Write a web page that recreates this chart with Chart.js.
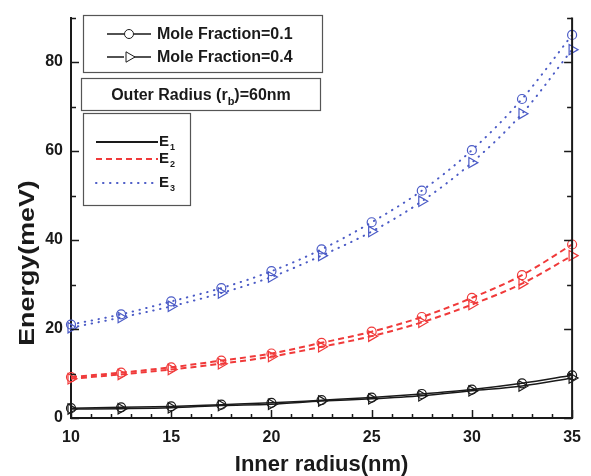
<!DOCTYPE html>
<html>
<head>
<meta charset="utf-8">
<script src="https://cdn.jsdelivr.net/npm/chart.js@4/dist/chart.umd.min.js"></script>
<style>
  html, body { margin: 0; padding: 0; background: #fff; }
  #wrap { width: 591px; height: 476px; }
</style>
</head>
<body>
<div id="wrap"><canvas id="c" width="591" height="476"></canvas></div>
<script>
// Inner radius (nm) and subband energies (meV) for two mole fractions
const innerRadius = [10, 12.5, 15, 17.5, 20, 22.5, 25, 27.5, 30, 32.5, 35];
const e1Frac01 = [2.2, 2.4, 2.6, 3.0, 3.4, 4.0, 4.6, 5.4, 6.4, 7.8, 9.6];
const e1Frac04 = [2.0, 2.1, 2.3, 2.8, 3.1, 3.8, 4.3, 5.0, 6.1, 7.2, 9.0];
const e2Frac01 = [9.2, 10.2, 11.4, 12.9, 14.5, 16.9, 19.4, 22.7, 27.0, 32.1, 39.0];
const e2Frac04 = [8.8, 9.8, 10.9, 12.2, 13.8, 16.0, 18.4, 21.5, 25.5, 30.2, 36.5];
const e3Frac01 = [21.0, 23.3, 26.2, 29.2, 33.0, 37.9, 44.0, 51.1, 60.2, 71.7, 86.1];
const e3Frac04 = [20.3, 22.6, 25.1, 28.1, 31.7, 36.5, 41.9, 48.7, 57.4, 68.4, 82.8];

const xTickLabels = [10, 15, 20, 25, 30, 35];
const yTickLabels = [0, 20, 40, 60, 80];

const FONT = '"Liberation Sans", Arial, Helvetica, sans-serif';
const BLACK = '#1a1a1a';
const RED = '#f03a3a';
const BLUE = '#4b5bc6';
const DASH = [6, 4];
const DOT = [0.5, 6.5];

const toPoints = ys => innerRadius.map((x, i) => ({ x, y: ys[i] }));

function series(label, ys, color, style, dash, width) {
  return {
    label,
    data: toPoints(ys),
    borderColor: color,
    borderWidth: width,
    borderDash: dash,
    borderCapStyle: dash === DOT ? 'round' : 'butt',
    cubicInterpolationMode: 'monotone',
    pointStyle: style,
    pointRotation: style === 'triangle' ? 90 : 0,
    pointRadius: style === 'triangle' ? 6 : 4.5,
    pointBorderWidth: 1.2,
    pointBorderColor: color,
    pointBackgroundColor: 'rgba(255,255,255,0)',
    clip: false
  };
}

// Inward ticks on left, right and bottom, plus the right-hand frame line
const frame = {
  id: 'frame',
  afterDraw(chart) {
    const { ctx, chartArea: a, scales: { x, y } } = chart;
    ctx.save();
    ctx.strokeStyle = BLACK;
    ctx.lineWidth = 2;
    ctx.beginPath();
    ctx.moveTo(a.right, a.top);
    ctx.lineTo(a.right, a.bottom + 1);
    ctx.stroke();
    ctx.lineWidth = 1.5;
    ctx.beginPath();
    for (let v = y.min; v <= y.max; v += 10) {
      const py = Math.round(y.getPixelForValue(v)) + 0.5;
      const len = v % 20 === 0 ? 8 : 5;
      ctx.moveTo(a.left, py); ctx.lineTo(a.left + len, py);
      ctx.moveTo(a.right, py); ctx.lineTo(a.right - len, py);
    }
    for (let v = x.min; v <= x.max; v += 1) {
      const px = Math.round(x.getPixelForValue(v)) + 0.5;
      const len = v % 5 === 0 ? 8 : 4;
      ctx.moveTo(px, a.bottom); ctx.lineTo(px, a.bottom - len);
    }
    ctx.stroke();
    ctx.restore();
  }
};

// Axis titles
const titles = {
  id: 'titles',
  afterDraw(chart) {
    const { ctx, chartArea: a } = chart;
    ctx.save();
    ctx.fillStyle = BLACK;
    ctx.font = 'bold 22px ' + FONT;
    ctx.textAlign = 'center';
    ctx.textBaseline = 'alphabetic';
    ctx.fillText('Inner radius(nm)', (a.left + a.right) / 2, 471);
    ctx.translate(28, 263);
    ctx.rotate(-Math.PI / 2);
    ctx.scale(1.22, 1);
    ctx.textBaseline = 'middle';
    ctx.fillText('Energy(meV)', 0, 0);
    ctx.restore();
  }
};

// Boxed keys: marker meaning, outer radius note, line style meaning
const keys = {
  id: 'keys',
  afterDraw(chart) {
    const { ctx } = chart;
    ctx.save();
    ctx.strokeStyle = '#555';
    ctx.lineWidth = 1.2;
    ctx.strokeRect(83.5, 15.5, 239, 57);
    ctx.strokeRect(81.5, 78.5, 239, 32);
    ctx.strokeRect(83.5, 113.5, 107, 92);

    // marker key
    const rows = [
      { y: 34, style: 'circle', r: 4.5, text: 'Mole Fraction=0.1' },
      { y: 57, style: 'triangle', r: 6, text: 'Mole Fraction=0.4' }
    ];
    ctx.font = 'bold 16px ' + FONT;
    ctx.textBaseline = 'middle';
    ctx.textAlign = 'left';
    rows.forEach(r => {
      ctx.strokeStyle = BLACK;
      ctx.lineWidth = 1.3;
      ctx.beginPath();
      ctx.moveTo(107, r.y); ctx.lineTo(124, r.y);
      ctx.moveTo(134, r.y); ctx.lineTo(151, r.y);
      ctx.stroke();
      ctx.fillStyle = '#fff';
      ctx.lineWidth = 1;
      Chart.helpers.drawPoint(ctx, {
        pointStyle: r.style, radius: r.r, borderWidth: 1,
        rotation: r.style === 'triangle' ? 90 : 0
      }, 129, r.y);
      ctx.fillStyle = BLACK;
      ctx.fillText(r.text, 157, r.y + 1);
    });

    // outer radius note with subscript
    ctx.fillStyle = BLACK;
    const parts = [['Outer Radius (r', 16, 0], ['b', 11, 5], [')=60nm', 16, 0]];
    let w = 0;
    parts.forEach(p => { ctx.font = 'bold ' + p[1] + 'px ' + FONT; w += ctx.measureText(p[0]).width; });
    let px = 201 - w / 2;
    ctx.textBaseline = 'alphabetic';
    parts.forEach(p => {
      ctx.font = 'bold ' + p[1] + 'px ' + FONT;
      ctx.fillText(p[0], px, 100 + p[2]);
      px += ctx.measureText(p[0]).width;
    });

    // line style key
    const lines = [
      { y: 142, color: BLACK, dash: [], cap: 'butt', sub: '1' },
      { y: 159, color: RED, dash: DASH, cap: 'butt', sub: '2' },
      { y: 183, color: BLUE, dash: DOT, cap: 'round', sub: '3' }
    ];
    lines.forEach(l => {
      ctx.strokeStyle = l.color;
      ctx.lineWidth = 2;
      ctx.lineCap = l.cap;
      ctx.setLineDash(l.dash);
      ctx.beginPath();
      ctx.moveTo(96, l.y); ctx.lineTo(158, l.y);
      ctx.stroke();
      ctx.setLineDash([]);
      ctx.fillStyle = BLACK;
      ctx.font = 'bold 15px ' + FONT;
      ctx.fillText('E', 159, l.y + 4);
      ctx.font = 'bold 9px ' + FONT;
      ctx.fillText(l.sub, 170, l.y + 8);
    });
    ctx.restore();
  }
};

new Chart(document.getElementById('c'), {
  type: 'line',
  data: {
    datasets: [
      series('E1 x=0.1', e1Frac01, BLACK, 'circle', [], 1.5),
      series('E1 x=0.4', e1Frac04, BLACK, 'triangle', [], 1.5),
      series('E2 x=0.1', e2Frac01, RED, 'circle', DASH, 2),
      series('E2 x=0.4', e2Frac04, RED, 'triangle', DASH, 2),
      series('E3 x=0.1', e3Frac01, BLUE, 'circle', DOT, 2),
      series('E3 x=0.4', e3Frac04, BLUE, 'triangle', DOT, 2)
    ]
  },
  options: {
    responsive: false,
    animation: false,
    devicePixelRatio: 1,
    layout: { padding: { top: 10, right: 14, left: 0, bottom: 0 } },
    plugins: { legend: { display: false }, tooltip: { enabled: false } },
    scales: {
      x: {
        type: 'linear',
        min: xTickLabels[0],
        max: xTickLabels[xTickLabels.length - 1],
        afterFit(s) { s.height = 58; },
        afterBuildTicks(s) { s.ticks = xTickLabels.map(v => ({ value: v })); },
        grid: { display: false, drawTicks: false },
        border: { display: true, color: BLACK, width: 2 },
        ticks: { color: BLACK, padding: 10, maxRotation: 0, font: { family: FONT, size: 16, weight: 'bold' } }
      },
      y: {
        min: 0,
        max: 90,
        afterFit(s) { s.width = 71; },
        afterBuildTicks(s) { s.ticks = yTickLabels.map(v => ({ value: v })); },
        grid: { display: false, drawTicks: false },
        border: { display: true, color: BLACK, width: 2 },
        ticks: { color: BLACK, padding: 8, font: { family: FONT, size: 16, weight: 'bold' } }
      }
    }
  },
  plugins: [frame, titles, keys]
});
</script>
</body>
</html>
